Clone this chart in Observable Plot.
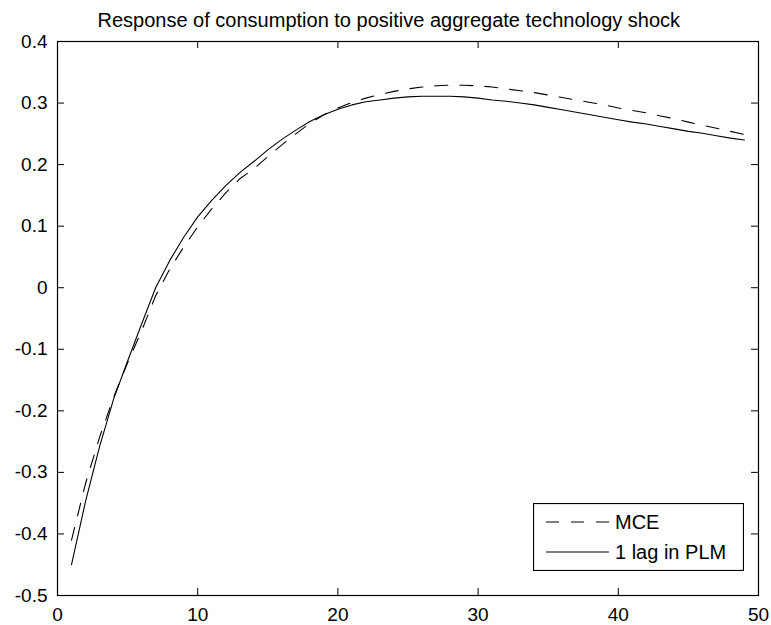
<!DOCTYPE html>
<html>
<head>
<meta charset="utf-8">
<script src="https://cdn.jsdelivr.net/npm/d3@7"></script>
<script src="https://cdn.jsdelivr.net/npm/@observablehq/plot@0.6"></script>
<style>
  html, body { margin: 0; padding: 0; background: #fff; }
  #chart { position: relative; width: 771px; height: 625px; }
  #legend { position: absolute; left: 533px; top: 503px; }
</style>
</head>
<body>
<div id="chart"></div>
<script>
// Impulse-response horizon (periods after the shock)
const periods = [1, 2, 3, 4, 5, 6, 7, 8, 9, 10, 11, 12, 13, 14, 15, 16, 17, 18, 19, 20,
  21, 22, 23, 24, 25, 26, 27, 28, 29, 30, 31, 32, 33, 34, 35, 36, 37, 38, 39, 40,
  41, 42, 43, 44, 45, 46, 47, 48, 49];

// Consumption response, rational-expectations benchmark (MCE)
const mce = [-0.410, -0.318, -0.243, -0.178, -0.122, -0.070, -0.013, 0.030, 0.066, 0.099,
  0.128, 0.154, 0.177, 0.193, 0.213, 0.232, 0.250, 0.267, 0.281, 0.292,
  0.301, 0.308, 0.314, 0.319, 0.323, 0.326, 0.328, 0.329, 0.329, 0.328,
  0.326, 0.323, 0.320, 0.317, 0.313, 0.309, 0.305, 0.301, 0.297, 0.292,
  0.288, 0.284, 0.279, 0.2745, 0.269, 0.264, 0.259, 0.254, 0.249];

// Consumption response with one lag in the perceived law of motion
const lagPLM = [-0.450, -0.347, -0.258, -0.181, -0.119, -0.059, 0.000, 0.044, 0.082, 0.115,
  0.142, 0.166, 0.187, 0.205, 0.224, 0.241, 0.256, 0.270, 0.281, 0.290,
  0.297, 0.302, 0.305, 0.308, 0.310, 0.311, 0.311, 0.311, 0.310, 0.308,
  0.305, 0.303, 0.300, 0.297, 0.293, 0.289, 0.285, 0.281, 0.277, 0.273,
  0.269, 0.266, 0.262, 0.258, 0.254, 0.251, 0.247, 0.243, 0.240];

const seriesNames = ["MCE", "1 lag in PLM"];
const xTicks = [0, 10, 20, 30, 40, 50];
const yTicks = [-0.5, -0.4, -0.3, -0.2, -0.1, 0, 0.1, 0.2, 0.3, 0.4];
const yTickLabels = ["-0.5", "-0.4", "-0.3", "-0.2", "-0.1", "0", "0.1", "0.2", "0.3", "0.4"];
const titleText = "Response of consumption to positive aggregate technology shock";

const W = 771, H = 625;
const margin = {left: 57, right: 13, top: 41, bottom: 30};
const innerW = W - margin.left - margin.right;
const innerH = H - margin.top - margin.bottom;
const tickLen = 7;
const font = "'Liberation Sans', Arial, Helvetica, sans-serif";
const dash = "13,12";

const mceRows = periods.map((t, i) => ({t, v: mce[i]}));
const plmRows = periods.map((t, i) => ({t, v: lagPLM[i]}));

const chart = Plot.plot({
  width: W,
  height: H,
  marginLeft: margin.left,
  marginRight: margin.right,
  marginTop: margin.top,
  marginBottom: margin.bottom,
  style: {fontFamily: font, fontSize: "19px", color: "#000", background: "#fff", overflow: "visible"},
  x: {domain: [0, 50], label: null},
  y: {domain: [-0.5, 0.4], label: null},
  marks: [
    Plot.line(mceRows, {x: "t", y: "v", stroke: "#000", strokeWidth: 1.1, strokeDasharray: dash}),
    Plot.line(plmRows, {x: "t", y: "v", stroke: "#000", strokeWidth: 1.1}),
    // inward ticks on all four sides of the box
    Plot.ruleX(xTicks, {stroke: "#000", insetTop: innerH - tickLen}),
    Plot.ruleX(xTicks, {stroke: "#000", insetBottom: innerH - tickLen}),
    Plot.ruleY(yTicks, {stroke: "#000", insetRight: innerW - tickLen}),
    Plot.ruleY(yTicks, {stroke: "#000", insetLeft: innerW - tickLen}),
    Plot.frame({stroke: "#000", strokeWidth: 1.2}),
    Plot.axisX({ticks: xTicks, tickSize: 0, tickPadding: 12, fontSize: 19, label: null}),
    Plot.axisY({ticks: yTicks, tickSize: 0, tickPadding: 10, fontSize: 19, label: null,
      tickFormat: (d) => yTickLabels[yTicks.indexOf(d)]}),
    Plot.text([titleText], {frameAnchor: "top-left", textAnchor: "start", lineAnchor: "bottom",
      dx: 40, dy: -15, fontSize: 20, fill: "#000"})
  ]
});
document.getElementById("chart").appendChild(chart);

// Legend box in the lower-right corner of the axes
const lw = 211, lh = 68;
const legend = d3.select("#chart").append("svg")
  .attr("id", "legend")
  .attr("width", lw)
  .attr("height", lh)
  .style("font-family", font)
  .style("font-size", "20px");
legend.append("rect")
  .attr("x", 0.5).attr("y", 0.5)
  .attr("width", lw - 1).attr("height", lh - 1)
  .attr("fill", "#fff").attr("stroke", "#000").attr("stroke-width", 1.2);
const entries = seriesNames.map((name, i) => ({name, dashed: i === 0, y: 19 + i * 30}));
const g = legend.selectAll("g.entry").data(entries).join("g").attr("class", "entry");
g.append("line")
  .attr("x1", 13).attr("x2", 76)
  .attr("y1", (d) => d.y).attr("y2", (d) => d.y)
  .attr("stroke", "#000").attr("stroke-width", 1.1)
  .attr("stroke-dasharray", (d) => (d.dashed ? dash : null));
g.append("text")
  .attr("x", 82).attr("y", (d) => d.y)
  .attr("dy", "0.35em")
  .attr("fill", "#000")
  .text((d) => d.name);
</script>
</body>
</html>
